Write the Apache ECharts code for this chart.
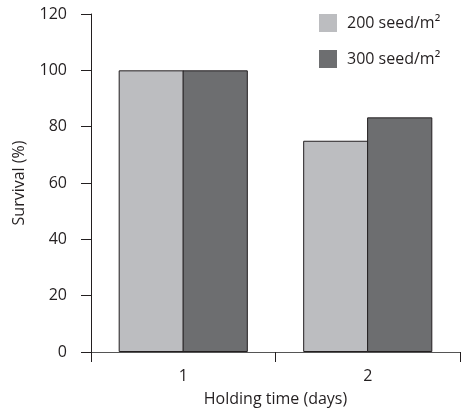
<!DOCTYPE html>
<html><head><meta charset="utf-8">
<script src="https://cdn.jsdelivr.net/npm/echarts@6/dist/echarts.min.js"></script>
<style>html,body{margin:0;padding:0;background:#fff}#c{width:461px;height:413px}</style>
</head><body><div id="c"></div>
<script>
var categories = ['1', '2'];
var series200 = [100, 75];
var series300 = [100, 83.3];
var seriesNames = ['200 seed/m²', '300 seed/m²'];
var yTicks = [0, 20, 40, 60, 80, 100, 120];

var FONT = 'Open Sans';
var FS = 16;
var TXT = '#231f20';
var chart = echarts.init(document.getElementById('c'), null, {renderer: 'canvas'});
chart.setOption({
  animation: false,
  textStyle: {fontFamily: FONT, color: TXT},
  grid: {left: 91, right: 1, top: 14, bottom: 61, containLabel: false},
  legend: {
    orient: 'vertical', left: 314, top: 9, itemWidth: 18, itemHeight: 18, itemGap: 18,
    icon: 'rect',
    itemStyle: {borderWidth: 0},
    textStyle: {fontFamily: FONT, fontSize: FS, color: TXT, padding: [0, 0, 0, 5]},
    data: seriesNames
  },
  xAxis: {
    type: 'category', data: categories,
    name: 'Holding time (days)', nameLocation: 'middle', nameGap: 39,
    nameTextStyle: {fontFamily: FONT, fontSize: FS, color: TXT},
    axisLine: {lineStyle: {color: '#555', width: 1}},
    axisTick: {show: true, length: 10, lineStyle: {color: '#231f20'}, alignWithLabel: false},
    axisLabel: {fontFamily: FONT, fontSize: FS, color: TXT, margin: 16}
  },
  yAxis: {
    type: 'value', min: yTicks[0], max: yTicks[yTicks.length - 1], interval: 20,
    name: 'Survival (%)', nameLocation: 'middle', nameGap: 64, nameRotate: 90,
    nameTextStyle: {fontFamily: FONT, fontSize: FS, color: TXT},
    axisLine: {show: true, lineStyle: {color: '#231f20', width: 1}},
    axisTick: {show: true, length: 10, lineStyle: {color: '#231f20'}},
    axisLabel: {fontFamily: FONT, fontSize: FS, color: TXT, margin: 24},
    splitLine: {show: false}
  },
  series: [
    {name: seriesNames[0], type: 'bar', data: series200, barGap: '-2%', barCategoryGap: '30%',
     itemStyle: {color: '#bcbdc0', borderColor: '#231f20', borderWidth: 1}},
    {name: seriesNames[1], type: 'bar', data: series300, barGap: '-2%', barCategoryGap: '30%',
     itemStyle: {color: '#6d6e70', borderColor: '#231f20', borderWidth: 1}}
  ]
});
</script></body></html>
